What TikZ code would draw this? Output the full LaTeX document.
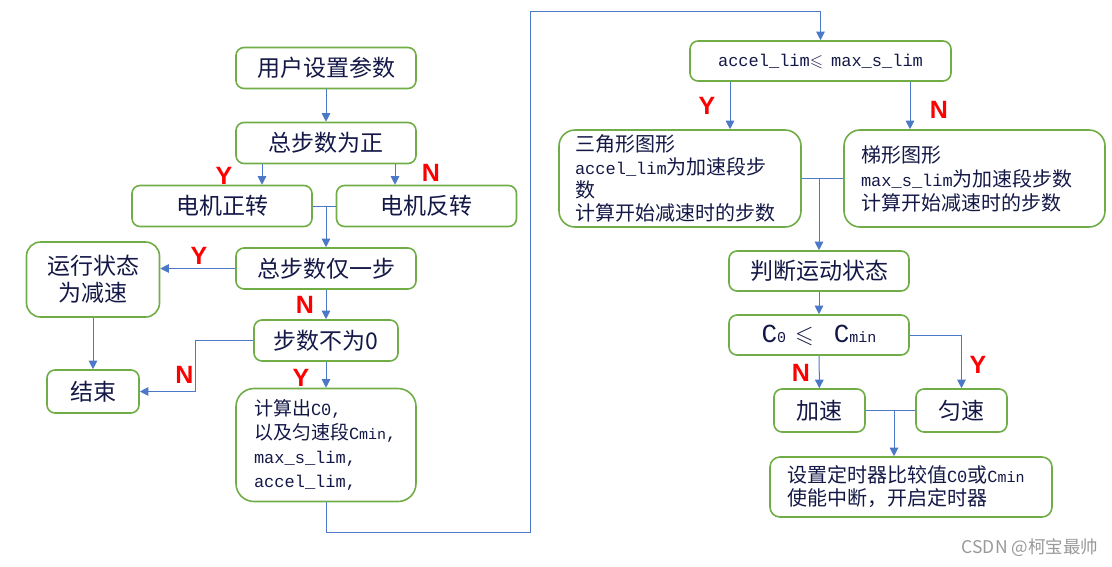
\documentclass[tikz,border=0pt]{standalone}
\usepackage{fontspec}
\usepackage{amssymb}
\setmainfont{Noto Sans CJK SC}
\setmonofont{Liberation Mono}
\newfontfamily\latinfont{Liberation Sans}
\usetikzlibrary{arrows.meta}

\definecolor{boxgreen}{RGB}{112,173,71}
\definecolor{linkblue}{RGB}{76,120,200}
\definecolor{inkblue}{RGB}{20,24,70}

\newcommand\code[1]{{\ttfamily\fontsize{17}{20}\selectfont #1}}
\newcommand\lowtxt[1]{{\ttfamily\fontsize{15}{18}\selectfont #1}}
\newcommand\bigC{{\ttfamily\fontsize{26}{28}\selectfont C}}

\begin{document}
\begin{tikzpicture}[x=1pt,y=-1pt]

\tikzstyle{box}=[draw=boxgreen,line width=1.6pt,rounded corners=8pt,text=inkblue,inner sep=0pt,minimum height=41pt,font=\fontsize{23}{27}\selectfont]
\tikzstyle{note}=[box,align=left,font=\fontsize{20}{23}\selectfont]
\tikzstyle{flow}=[-{Triangle[length=8.5pt,width=8.5pt]},draw=linkblue,line width=1pt]
\tikzstyle{wire}=[draw=linkblue,line width=1pt]
\tikzstyle{yes}=[text=red,inner sep=0pt,font=\latinfont\bfseries\fontsize{25}{25}\selectfont]

\useasboundingbox (0,0) rectangle (1112,566);

% left half
\node[box,minimum width=180pt](b1)at(326,68){用户设置参数};
\node[box,minimum width=180pt](b2)at(326,143){总步数为正};
\node[box,minimum width=180pt](b3)at(222,206){电机正转};
\node[box,minimum width=180pt](b4)at(426.5,206){电机反转};
\node[box,minimum width=180pt](b5)at(326,268.5){总步数仅一步};
\node[box,minimum width=133pt,minimum height=75pt,align=center,rounded corners=14pt](b6)at(93,279.5){运行状态\\为减速};
\node[box,minimum width=144pt](b7)at(326,340.5){步数不为0};
\node[box,minimum width=92pt,minimum height=43pt](b9)at(93,391.5){结束};
\node[note,text width=144pt,inner xsep=18pt,minimum height=113pt,rounded corners=18pt,font=\fontsize{19}{24}\selectfont](b8)at(326,445){计算出\code{C0,}\\以及匀速段\code{C\lowtxt{min},}\\\code{max\_s\_lim,}\\\code{accel\_lim,}};

% right half
\node[box,minimum width=261pt,minimum height=40pt](b10)at(820.5,61){\code{accel\_lim}{\fontsize{17}{20}\selectfont$\leqslant$}\hspace{8pt}\code{max\_s\_lim}};
\node[note,text width=210pt,inner xsep=16pt,minimum height=97pt,rounded corners=16pt](b11)at(680,178.5){三角形图形\\\code{accel\_lim}为加速段步\\数\\计算开始减速时的步数};
\node[note,text width=227pt,inner xsep=17pt,minimum height=97pt,rounded corners=16pt,font=\fontsize{20}{24}\selectfont](b12)at(974.5,178.5){梯形图形\\\code{max\_s\_lim}为加速段步数\\计算开始减速时的步数};
\node[box,minimum width=180pt,minimum height=40pt](b13)at(819,271){判断运动状态};
\node[box,minimum width=180pt,minimum height=40pt](b14)at(819,335){\bigC\lowtxt{0}\hspace{9pt}{\fontsize{24}{28}\selectfont$\leqslant$}\hspace{20pt}\bigC\lowtxt{min}};
\node[box,minimum width=91pt,minimum height=43pt](b15)at(819.5,410.5){加速};
\node[box,minimum width=91pt,minimum height=43pt](b16)at(961.5,410.5){匀速};
\node[note,text width=248pt,inner xsep=17pt,minimum height=60pt,rounded corners=10pt](b17)at(911,487){设置定时器比较值\code{C0}或\code{C\lowtxt{min}}\\使能中断，开启定时器};

% Y / N marks
\node[yes](y1)at(224,176){Y};
\node[yes](n1)at(431,173){N};
\node[yes](y2)at(199,255.5){Y};
\node[yes](n2)at(305,304.5){N};
\node[yes](y3)at(301,378){Y};
\node[yes](n3)at(184.5,375){N};
\node[yes](y4)at(707,106){Y};
\node[yes](n4)at(939,110){N};
\node[yes](n5)at(801,373){N};
\node[yes](y5)at(978,365){Y};

\node[text=black!40,inner sep=0pt,font=\fontsize{17.5}{20}\selectfont](mark)at(1030,548){CSDN @柯宝最帅};

\coordinate(c1)at(530,532);
\coordinate(c2)at(530,11);

\draw[flow](b1)--(b2);
\draw[flow]([xshift=-64pt]b2.south)--([xshift=-64pt]b2.south|-b3.north);
\draw[flow]([xshift=69pt]b2.south)--([xshift=69pt]b2.south|-b4.north);
\draw[wire](b3.east)--(b4.west);
\draw[flow](b5.north|-b3.east)--(b5.north);
\draw[flow](b5.west)--(b5.west-|b6.east);
\draw[flow](b5)--(b7);
\draw[flow](b7)--(b8);
\draw[flow](b6)--(b9);
\draw[flow](b7.west)--++(-58,0)|-(b9.east);
\draw[flow](b8.south)|-(c1)--(c2)-|(b10.north);

\draw[flow]([xshift=-90.5pt]b10.south)--([xshift=-90.5pt]b10.south|-b11.north);
\draw[flow]([xshift=89.5pt]b10.south)--([xshift=89.5pt]b10.south|-b12.north);
\draw[wire](b11.east)--(b12.west);
\draw[flow](b13.north|-b11.east)--(b13.north);
\draw[flow](b13)--(b14);
\draw[flow](b14)--(b15);
\draw[flow](b14.east)-|(b16.north);
\draw[wire](b15.east)--(b16.west);
\draw[flow]([xshift=-17pt]b17.north|-b15.east)--([xshift=-17pt]b17.north);

\end{tikzpicture}
\end{document}
